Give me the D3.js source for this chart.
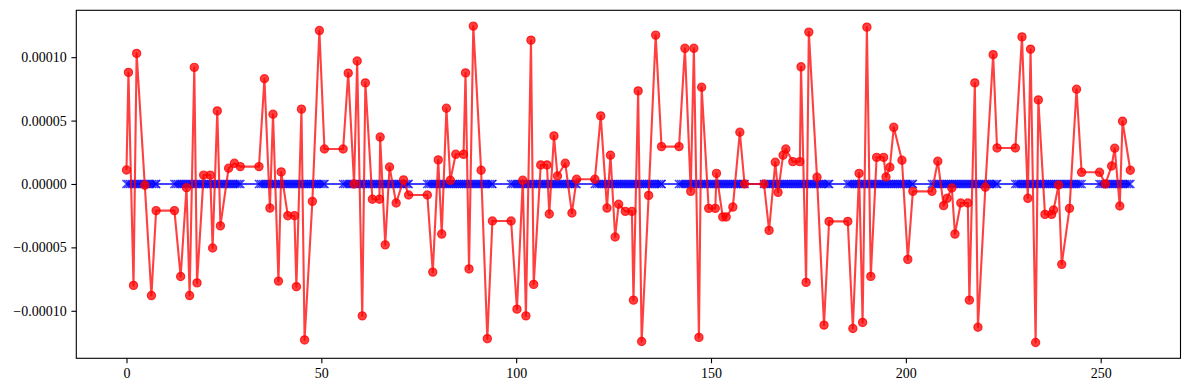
<!DOCTYPE html>
<html>
<head>
<meta charset="utf-8">
<script src="https://cdn.jsdelivr.net/npm/d3@7"></script>
<style>
  body { margin: 0; background: #fff; }
  svg { display: block; }
</style>
</head>
<body>
<svg id="chart" width="1189" height="390"></svg>
<script>
// sample positions of the red series
var xs = [
  0.0, 0.5, 1.8, 2.6, 4.7, 6.4, 7.6, 12.3, 13.9, 15.4, 16.2, 17.4, 18.1, 19.8, 21.5, 22.1, 23.3, 24.1, 26.2, 27.7,
  29.2, 34.0, 35.4, 36.8, 37.6, 39.0, 39.7, 41.4, 43.1, 43.6, 44.9, 45.7, 47.7, 49.5, 50.8, 55.6, 56.9, 58.4, 59.2, 60.5,
  61.3, 63.1, 64.9, 65.1, 66.4, 67.5, 69.2, 71.1, 72.4, 77.2, 78.6, 80.0, 80.9, 82.1, 83.1, 84.5, 86.5, 87.0, 87.9, 89.0,
  91.0, 92.6, 93.9, 98.7, 100.2, 101.7, 102.5, 103.8, 104.5, 106.3, 107.9, 108.5, 109.7, 110.6, 112.6, 114.3, 115.5, 120.2, 121.7, 123.3,
  124.2, 125.4, 126.3, 128.0, 129.7, 130.1, 131.3, 132.2, 134.0, 135.8, 137.3, 141.8, 143.3, 144.8, 145.6, 146.9, 147.6, 149.4, 151.1, 151.4,
  153.0, 153.9, 155.6, 157.4, 158.6, 163.6, 164.9, 166.5, 167.2, 168.5, 169.2, 171.0, 172.8, 173.1, 174.4, 175.1, 177.2, 179.0, 180.3, 185.1,
  186.4, 188.0, 188.9, 190.0, 191.0, 192.5, 194.3, 194.9, 195.9, 196.9, 199.0, 200.5, 201.8, 206.7, 208.2, 209.7, 210.6, 211.8, 212.6, 214.1,
  215.9, 216.3, 217.7, 218.5, 220.4, 222.4, 223.4, 228.1, 229.8, 231.3, 232.0, 233.3, 234.0, 235.7, 237.4, 237.9, 239.2, 240.0, 242.0, 243.8,
  245.1, 249.7, 251.2, 252.8, 253.6, 254.9, 255.6, 257.6
];
var redVals = [
  1.1e-5, 8.8e-5, -8.0e-5, 10.3e-5, -0.1e-5, -8.8e-5, -2.1e-5, -2.1e-5, -7.3e-5, -0.3e-5, -8.8e-5, 9.2e-5, -7.8e-5, 0.7e-5, 0.7e-5, -5.05e-5, 5.76e-5, -3.3e-5, 1.24e-5, 1.63e-5,
  1.37e-5, 1.37e-5, 8.3e-5, -1.9e-5, 5.5e-5, -7.66e-5, 0.95e-5, -2.5e-5, -2.5e-5, -8.1e-5, 5.9e-5, -12.3e-5, -1.37e-5, 12.1e-5, 2.76e-5, 2.76e-5, 8.74e-5, 0.0, 9.7e-5, -10.4e-5,
  7.97e-5, -1.2e-5, -1.2e-5, 3.7e-5, -4.8e-5, 1.34e-5, -1.5e-5, 0.32e-5, -0.87e-5, -0.87e-5, -6.95e-5, 1.9e-5, -3.95e-5, 5.97e-5, 0.29e-5, 2.34e-5, 2.34e-5, 8.76e-5, -6.7e-5, 12.45e-5,
  1.08e-5, -12.2e-5, -2.92e-5, -2.92e-5, -9.87e-5, 0.29e-5, -10.4e-5, 11.34e-5, -7.92e-5, 1.5e-5, 1.5e-5, -2.37e-5, 3.79e-5, 0.63e-5, 1.63e-5, -2.29e-5, 0.37e-5, 0.37e-5, 5.37e-5, -1.9e-5,
  2.27e-5, -4.18e-5, -1.6e-5, -2.16e-5, -2.16e-5, -9.16e-5, 7.34e-5, -12.42e-5, -0.9e-5, 11.74e-5, 2.95e-5, 2.95e-5, 10.7e-5, -0.58e-5, 10.7e-5, -12.1e-5, 7.63e-5, -1.92e-5, -1.92e-5, 0.84e-5,
  -2.6e-5, -2.6e-5, -1.82e-5, 4.08e-5, 0.0, 0.0, -3.66e-5, 1.71e-5, -0.66e-5, 2.27e-5, 2.76e-5, 1.76e-5, 1.76e-5, 9.24e-5, -7.76e-5, 11.98e-5, 0.53e-5, -11.13e-5, -2.95e-5, -2.95e-5,
  -11.4e-5, 0.84e-5, -10.92e-5, 12.37e-5, -7.29e-5, 2.1e-5, 2.1e-5, 0.55e-5, 1.32e-5, 4.47e-5, 1.87e-5, -5.95e-5, -0.58e-5, -0.58e-5, 1.79e-5, -1.71e-5, -1.13e-5, -0.32e-5, -3.95e-5, -1.5e-5,
  -1.5e-5, -9.16e-5, 7.97e-5, -11.3e-5, -0.26e-5, 10.2e-5, 2.84e-5, 2.84e-5, 11.6e-5, -1.13e-5, 10.63e-5, -12.5e-5, 6.63e-5, -2.4e-5, -2.4e-5, -2.05e-5, -0.08e-5, -6.34e-5, -1.92e-5, 7.47e-5,
  0.92e-5, 0.92e-5, 0.0, 1.42e-5, 2.82e-5, -1.74e-5, 4.95e-5, 1.08e-5
];
// the blue series sits at zero; it is densely sampled inside these spans only
var blueSpans = [
  [0.0, 7.6], [12.3, 29.2], [34.0, 50.8], [55.6, 72.4], [77.2, 93.9], [98.7, 115.5], [120.2, 137.3],
  [141.8, 158.6], [163.6, 180.3], [185.1, 201.8], [206.7, 223.4], [228.1, 245.1], [249.7, 257.6]
];
var blueStep = 0.5;
var blueLevel = 0;
var xTicks = [0, 50, 100, 150, 200, 250];
var yTicks = [-0.0001, -0.00005, 0, 0.00005, 0.0001];

var svg = d3.select("#chart"),
    margin = {top: 10.3, right: 8.5, bottom: 31.7, left: 76.3},
    width = +svg.attr("width") - margin.left - margin.right,
    height = +svg.attr("height") - margin.top - margin.bottom,
    g = svg.append("g").attr("transform", "translate(" + margin.left + "," + margin.top + ")");

// matplotlib style 5% margins
function padded(ext) {
  var r = ext[1] - ext[0];
  return [ext[0] - 0.05 * r, ext[1] + 0.05 * r];
}

var blueData = [];
blueSpans.forEach(function(s) {
  d3.range(s[0], s[1], blueStep).concat([s[1]]).forEach(function(v) { blueData.push([v, blueLevel]); });
});
var redData = xs.map(function(d, i) { return [d, redVals[i]]; });

var x = d3.scaleLinear().domain(padded(d3.extent(xs))).range([0, width]);
var y = d3.scaleLinear().domain(padded(d3.extent(redVals.concat([blueLevel])))).range([height, 0]);

var line = d3.line()
  .x(function(d) { return x(d[0]); })
  .y(function(d) { return y(d[1]); });

// blue series
g.append("path")
  .datum(blueData)
  .attr("fill", "none")
  .attr("stroke", "#0000ff")
  .attr("stroke-opacity", 0.75)
  .attr("stroke-width", 2.1)
  .attr("d", line);

var m = 4.1;
g.append("g")
  .selectAll("path")
  .data(blueData)
  .enter().append("path")
    .attr("transform", function(d) { return "translate(" + x(d[0]) + "," + y(d[1]) + ")"; })
    .attr("d", "M" + (-m) + "," + (-m) + "L" + m + "," + m + "M" + (-m) + "," + m + "L" + m + "," + (-m))
    .attr("fill", "none")
    .attr("stroke", "#0000ff")
    .attr("stroke-opacity", 0.75)
    .attr("stroke-width", 1.4);

// red series
g.append("path")
  .datum(redData)
  .attr("fill", "none")
  .attr("stroke", "#ff0000")
  .attr("stroke-opacity", 0.75)
  .attr("stroke-width", 2.1)
  .attr("stroke-linejoin", "round")
  .attr("d", line);

g.append("g")
  .selectAll("circle")
  .data(redData)
  .enter().append("circle")
    .attr("cx", function(d) { return x(d[0]); })
    .attr("cy", function(d) { return y(d[1]); })
    .attr("r", 4.1)
    .attr("fill", "#ff0000")
    .attr("fill-opacity", 0.75)
    .attr("stroke", "#ff0000")
    .attr("stroke-opacity", 0.75)
    .attr("stroke-width", 1.2);

// axes
var xAxis = g.append("g")
  .attr("transform", "translate(0," + height + ")")
  .call(d3.axisBottom(x).tickValues(xTicks).tickSize(4.9).tickPadding(4.6).tickFormat(d3.format("d")));

var yAxis = g.append("g")
  .call(d3.axisLeft(y).tickValues(yTicks).tickSize(4.9).tickPadding(4.7).tickFormat(d3.format(".5f")));

[xAxis, yAxis].forEach(function(a) {
  a.select(".domain").remove();
  a.attr("font-family", "'Liberation Serif', serif").attr("font-size", 14);
  a.selectAll("line").attr("stroke", "#000").attr("stroke-width", 1.1);
  a.selectAll("text").attr("fill", "#000");
});

g.append("rect")
  .attr("width", width)
  .attr("height", height)
  .attr("fill", "none")
  .attr("stroke", "#000")
  .attr("stroke-width", 1.1);
</script>
</body>
</html>
